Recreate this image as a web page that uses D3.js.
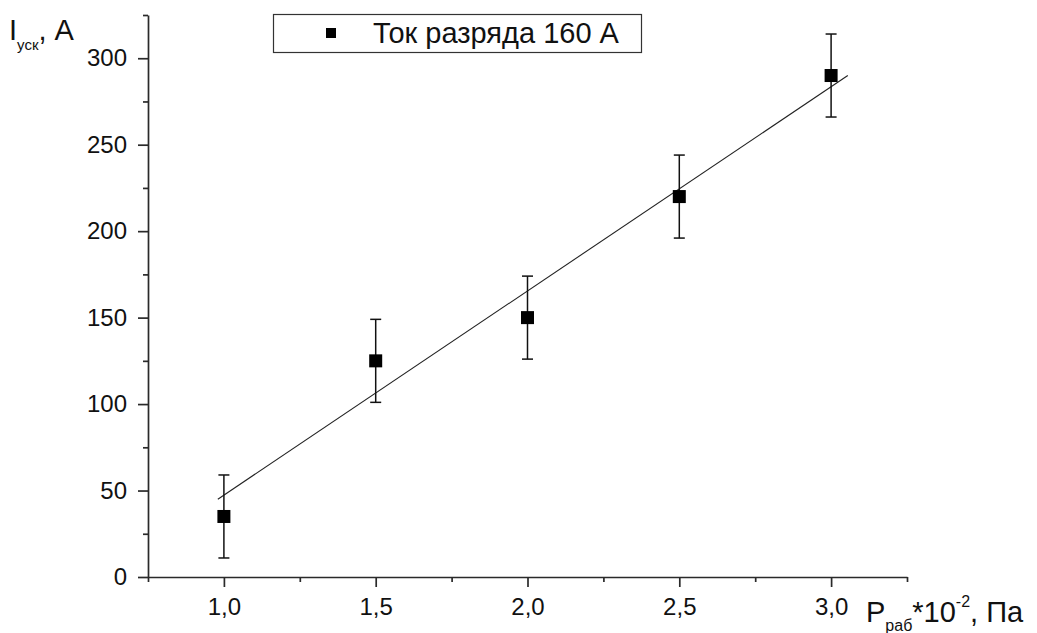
<!DOCTYPE html>
<html lang="ru">
<head>
<meta charset="utf-8">
<title>Iуск от Pраб</title>
<script src="https://d3js.org/d3.v7.min.js"></script>
<style>
  body { margin: 0; background: #fff; }
  svg { display: block; font-family: "Liberation Sans", Arial, sans-serif; }
  .axis path, .axis line { stroke: #2a2a2a; stroke-width: 1.7px; }
  .axis text { font-size: 24px; fill: #111; font-family: "Liberation Sans", Arial, sans-serif; }
</style>
</head>
<body>
<script>
// data
var pressure = [1.0, 1.5, 2.0, 2.5, 3.0];
var current = [35, 125, 150, 220, 290];
var errors = [24, 24, 24, 24, 24];
// linear fit, end points as drawn
var fitX = [0.98, 3.055];
var fitY = [45, 290];
var xTicks = [1.0, 1.5, 2.0, 2.5, 3.0];
var yTicks = [0, 50, 100, 150, 200, 250, 300];
var legendLabel = "Ток разряда 160 А";

var W = 1037, H = 633;
var mLeft = 148, mRight = 907, mTop = 15, mBottom = 577;

var svg = d3.select("body").append("svg")
  .attr("width", W).attr("height", H);

var x = d3.scaleLinear().domain([0.75, 3.25]).range([mLeft, mRight]);
var y = d3.scaleLinear().domain([0, 325]).range([mBottom, mTop]);

var fmt = function(d) { return d3.format(".1f")(d).replace(".", ","); };

// minor ticks
svg.append("g").attr("class", "axis")
  .attr("transform", "translate(0," + mBottom + ")")
  .call(d3.axisBottom(x).tickValues(d3.range(0.75, 3.26, 0.5)).tickSize(5).tickFormat(""))
  .select(".domain").remove();
svg.append("g").attr("class", "axis")
  .attr("transform", "translate(" + mLeft + ",0)")
  .call(d3.axisLeft(y).tickValues(d3.range(25, 326, 50)).tickSize(5).tickFormat(""))
  .select(".domain").remove();

// major axes
svg.append("g").attr("class", "axis")
  .attr("transform", "translate(0," + mBottom + ")")
  .call(d3.axisBottom(x).tickValues(xTicks).tickSize(10).tickSizeOuter(0).tickPadding(11).tickFormat(fmt));
svg.append("g").attr("class", "axis")
  .attr("transform", "translate(" + mLeft + ",0)")
  .call(d3.axisLeft(y).tickValues(yTicks).tickSize(10).tickSizeOuter(0).tickPadding(11));

// fit line
svg.append("line")
  .attr("x1", x(fitX[0])).attr("y1", y(fitY[0]))
  .attr("x2", x(fitX[1])).attr("y2", y(fitY[1]))
  .attr("stroke", "#222").attr("stroke-width", 1.1);

// error bars
var capW = 5.5;
var eb = svg.append("g").attr("stroke", "#111").attr("stroke-width", 1.5);
pressure.forEach(function(p, i) {
  var cx = x(p), hi = y(current[i] + errors[i]), lo = y(current[i] - errors[i]);
  eb.append("line").attr("x1", cx).attr("x2", cx).attr("y1", hi).attr("y2", lo);
  eb.append("line").attr("x1", cx - capW).attr("x2", cx + capW).attr("y1", hi).attr("y2", hi);
  eb.append("line").attr("x1", cx - capW).attr("x2", cx + capW).attr("y1", lo).attr("y2", lo);
});

// points
var sq = 13;
svg.selectAll("rect.pt").data(pressure).enter().append("rect")
  .attr("class", "pt")
  .attr("x", function(d) { return x(d) - sq / 2; })
  .attr("y", function(d, i) { return y(current[i]) - sq / 2; })
  .attr("width", sq).attr("height", sq)
  .attr("fill", "#000");

// legend
svg.append("rect").attr("x", 273.5).attr("y", 14.5).attr("width", 368).attr("height", 38)
  .attr("fill", "#fff").attr("stroke", "#333").attr("stroke-width", 1.2);
svg.append("rect").attr("x", 326).attr("y", 28).attr("width", 10).attr("height", 10).attr("fill", "#000");
svg.append("text").attr("x", 373).attr("y", 43).attr("font-size", 29).attr("fill", "#111")
  .text(legendLabel);

// y title
var yt = svg.append("text").attr("x", 9).attr("y", 40).attr("font-size", 29).attr("fill", "#111");
yt.append("tspan").text("I");
yt.append("tspan").attr("font-size", 15).attr("dy", 10).text("уск");
yt.append("tspan").attr("dy", -10).text(", А");

// x title
var xt = svg.append("text").attr("x", 866).attr("y", 622).attr("font-size", 29).attr("fill", "#111");
xt.append("tspan").text("P");
xt.append("tspan").attr("font-size", 16).attr("dy", 9).text("раб");
xt.append("tspan").attr("dy", -9).text("*10");
xt.append("tspan").attr("font-size", 16).attr("dy", -15).text("-2");
xt.append("tspan").attr("dy", 15).text(", Па");
</script>
</body>
</html>
